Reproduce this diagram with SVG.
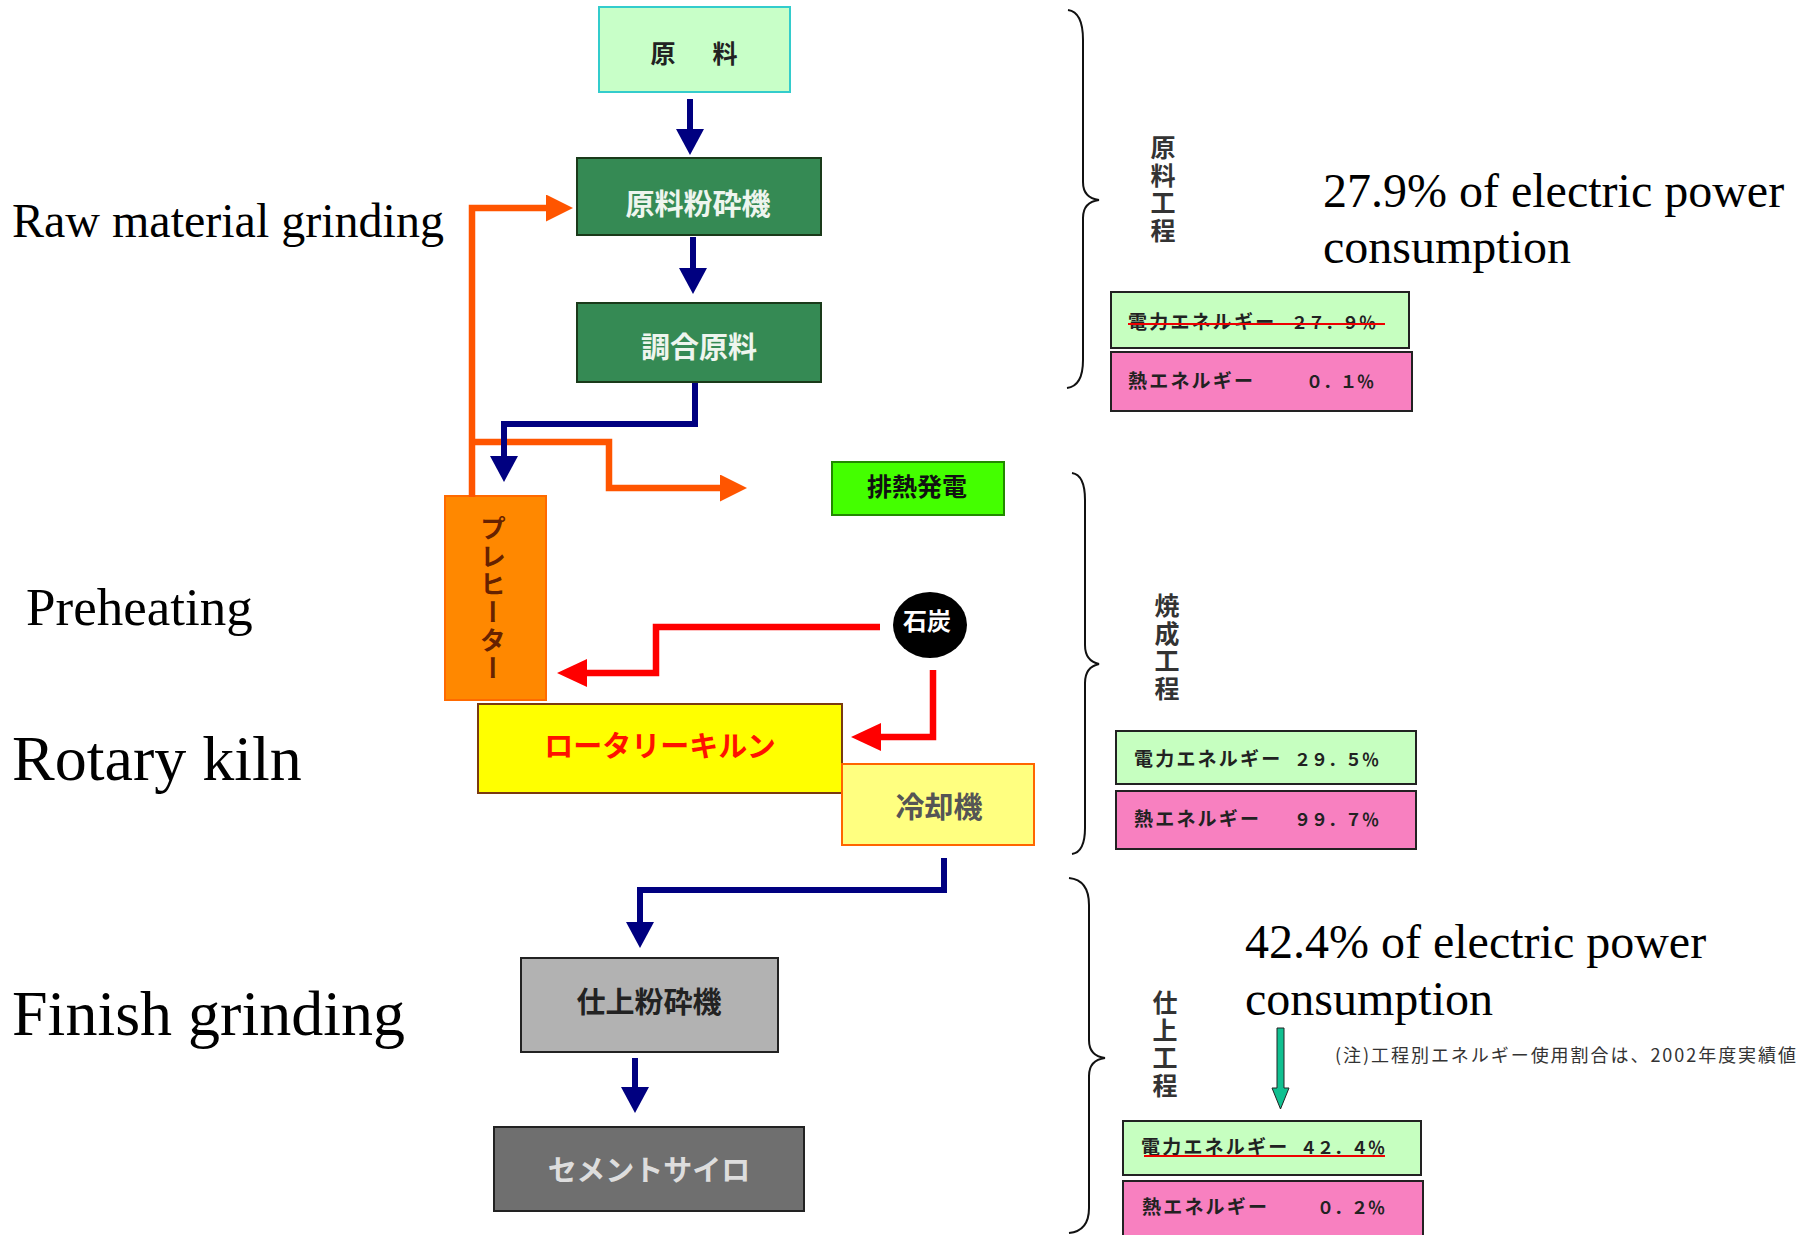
<svg xmlns="http://www.w3.org/2000/svg" width="1814" height="1235" viewBox="0 0 1814 1235">
<style>
.en{font-family:"Liberation Serif","Times New Roman",serif;fill:#000}
.jp{font-family:"Noto Sans CJK JP",sans-serif;font-weight:700}
.lbl{font-family:"Noto Sans CJK JP",sans-serif;font-weight:700;font-size:29px;text-anchor:middle}
.vt{font-family:"Noto Sans CJK JP",sans-serif;font-weight:700;font-size:25px;fill:#333;writing-mode:vertical-rl;letter-spacing:2.5px}
.ebox{fill:#c6ffc0;stroke:#222;stroke-width:2}
.hbox{fill:#f880c0;stroke:#222;stroke-width:2}
.etxt{font-family:"Noto Sans CJK JP",sans-serif;font-weight:700;font-size:19px;fill:#222;letter-spacing:2.2px}
.num{letter-spacing:0;font-size:17px}
.blue{fill:none;stroke:#000080;stroke-width:6}
.orange{fill:none;stroke:#ff5500;stroke-width:6.5}
.red{fill:none;stroke:#ff0000;stroke-width:6.5}
.brace{fill:none;stroke:#111;stroke-width:2}
</style>
<defs>
<marker id="ahBlue" markerUnits="userSpaceOnUse" viewBox="0 0 26 28" markerWidth="26" markerHeight="28" refX="1" refY="14" orient="auto"><path d="M0,0 L26,14 L0,28 z" fill="#000080"/></marker>
<marker id="ahOrange" markerUnits="userSpaceOnUse" viewBox="0 0 27 27" markerWidth="27" markerHeight="27" refX="1" refY="13.5" orient="auto"><path d="M0,0 L27,13.5 L0,27 z" fill="#ff5500"/></marker>
<marker id="ahRed" markerUnits="userSpaceOnUse" viewBox="0 0 30 28" markerWidth="30" markerHeight="28" refX="1" refY="14" orient="auto"><path d="M0,0 L30,14 L0,28 z" fill="#ff0000"/></marker>
</defs>
<rect width="1814" height="1235" fill="#fff"/>

<g id="left-labels">
<text class="en" x="12" y="237" font-size="48">Raw material grinding</text>
<text class="en" x="26" y="625" font-size="53">Preheating</text>
<text class="en" x="12" y="780" font-size="64">Rotary kiln</text>
<text class="en" x="12" y="1035" font-size="64">Finish grinding</text>
</g>

<g id="node-genryo">
<rect x="599" y="7" width="191" height="85" fill="#c8ffc8" stroke="#33cccc" stroke-width="2"/>
<text class="jp" x="650.5" y="63" font-size="25" fill="#222" letter-spacing="6">原　料</text>
</g>
<g id="node-mill">
<rect x="577" y="158" width="244" height="77" fill="#358a54" stroke="#1a3a1a" stroke-width="2"/>
<text class="lbl" x="698" y="215" fill="#eef5ee">原料粉砕機</text>
</g>
<g id="node-blend">
<rect x="577" y="303" width="244" height="79" fill="#358a54" stroke="#1a3a1a" stroke-width="2"/>
<text class="lbl" x="699" y="358" fill="#eef5ee">調合原料</text>
</g>
<g id="node-waste-heat">
<rect x="832" y="462" width="172" height="53" fill="#44ff00" stroke="#228800" stroke-width="2"/>
<text class="jp" x="917" y="496" font-size="25" fill="#111" text-anchor="middle">排熱発電</text>
</g>
<g id="node-preheater">
<rect x="445" y="496" width="101" height="204" fill="#ff8800" stroke="#ff6a00" stroke-width="2"/>
<text class="jp" x="493" y="515" font-size="26" fill="#662200" style="writing-mode:vertical-rl;letter-spacing:2px">プレヒーター</text>
</g>
<g id="node-coal">
<ellipse cx="930" cy="625" rx="37" ry="33" fill="#000"/>
<text class="jp" x="927" y="630" font-size="24" fill="#fff" text-anchor="middle">石炭</text>
</g>
<g id="node-kiln">
<rect x="478" y="704" width="364" height="89" fill="#ffff00" stroke="#7a3a10" stroke-width="2"/>
<text class="lbl" x="660" y="757" fill="#ff1100">ロータリーキルン</text>
</g>
<g id="node-cooler">
<rect x="842" y="764" width="192" height="81" fill="#ffff80" stroke="#ff6600" stroke-width="2"/>
<text class="lbl" x="939" y="818" fill="#555">冷却機</text>
</g>
<g id="node-finish-mill">
<rect x="521" y="958" width="257" height="94" fill="#b2b2b2" stroke="#222" stroke-width="2"/>
<text class="lbl" x="649" y="1013" fill="#222">仕上粉砕機</text>
</g>
<g id="node-silo">
<rect x="494" y="1127" width="310" height="84" fill="#6f6f6f" stroke="#222" stroke-width="2"/>
<text class="lbl" x="649" y="1181" fill="#ddd">セメントサイロ</text>
</g>

<g id="connectors">
<path class="orange" d="M472,497 V208 H547" marker-end="url(#ahOrange)"/>
<path class="orange" d="M472,442 H609 V488 H721" marker-end="url(#ahOrange)"/>
<path class="blue" d="M690,99 V130" marker-end="url(#ahBlue)"/>
<path class="blue" d="M693,237 V269" marker-end="url(#ahBlue)"/>
<path class="blue" d="M695,383 V424 H504 V457" marker-end="url(#ahBlue)"/>
<path class="blue" d="M944,858 V890 H640 V923" marker-end="url(#ahBlue)"/>
<path class="blue" d="M635,1058 V1088" marker-end="url(#ahBlue)"/>
<path class="red" d="M880,627 H656 V673 H586" marker-end="url(#ahRed)"/>
<path class="red" d="M933,670 V737 H880" marker-end="url(#ahRed)"/>
<path d="M1277,1028 L1284,1028 L1284,1088 L1289,1088 L1280.5,1109 L1272,1088 L1277,1088 Z" fill="#10c090" stroke="#222" stroke-width="1"/>
</g>

<g id="brace-raw">
<path class="brace" d="M1068,10 Q1083,12 1083,40 L1083,182 Q1083,198 1099,200 Q1083,202 1083,218 L1083,360 Q1083,386 1067,388"/>
<text class="vt" x="1163" y="135">原料工程</text>
</g>
<g id="brace-burn">
<path class="brace" d="M1072,473 Q1085,475 1085,500 L1085,645 Q1085,661 1099,664 Q1085,667 1085,683 L1085,828 Q1085,852 1072,854"/>
<text class="vt" x="1167" y="593">焼成工程</text>
</g>
<g id="brace-finish">
<path class="brace" d="M1069,878 Q1089,880 1089,905 L1089,1040 Q1089,1056 1105,1058 Q1089,1060 1089,1076 L1089,1208 Q1089,1231 1069,1233"/>
<text class="vt" x="1165" y="990">仕上工程</text>
</g>

<g id="energy-raw">
<rect class="ebox" x="1111" y="292" width="298" height="56"/>
<text class="etxt" x="1128" y="329">電力エネルギー<tspan class="num" x="1291">２７．９％</tspan></text>
<line x1="1128" y1="324" x2="1385" y2="324" stroke="#ee0000" stroke-width="2"/>
<rect class="hbox" x="1111" y="352" width="301" height="59"/>
<text class="etxt" x="1128" y="388">熱エネルギー<tspan class="num" x="1306">０．１％</tspan></text>
</g>
<g id="energy-burn">
<rect class="ebox" x="1116" y="731" width="300" height="53"/>
<text class="etxt" x="1134" y="766">電力エネルギー<tspan class="num" x="1294">２９．５％</tspan></text>
<rect class="hbox" x="1116" y="791" width="300" height="58"/>
<text class="etxt" x="1134" y="826">熱エネルギー<tspan class="num" x="1294">９９．７％</tspan></text>
</g>
<g id="energy-finish">
<rect class="ebox" x="1123" y="1121" width="298" height="54"/>
<text class="etxt" x="1141" y="1154">電力エネルギー<tspan class="num" x="1300">４２．４％</tspan></text>
<line x1="1144" y1="1156" x2="1385" y2="1156" stroke="#ee0000" stroke-width="2"/>
<rect class="hbox" x="1123" y="1181" width="300" height="60"/>
<text class="etxt" x="1142" y="1214">熱エネルギー<tspan class="num" x="1317">０．２％</tspan></text>
</g>

<g id="notes">
<text class="en" x="1323" y="207" font-size="48">27.9% of electric power</text>
<text class="en" x="1323" y="263" font-size="48">consumption</text>
<text class="en" x="1245" y="958" font-size="48">42.4% of electric power</text>
<text class="en" x="1245" y="1015" font-size="48">consumption</text>
<text x="1335" y="1062" font-family="'Noto Sans CJK JP',sans-serif" font-size="18" fill="#333" textLength="461">(注)工程別エネルギー使用割合は、2002年度実績値</text>
</g>
</svg>
